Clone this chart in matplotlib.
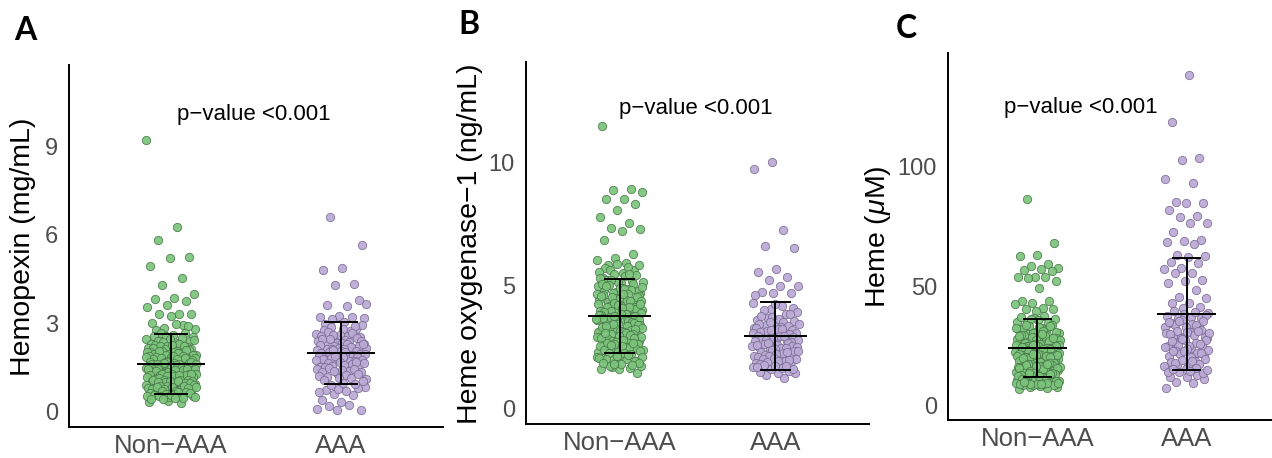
import numpy as np
import matplotlib
matplotlib.use("Agg")
import matplotlib.pyplot as plt

plt.rcParams['font.family'] = ['Liberation Sans', 'DejaVu Sans']
plt.rcParams['mathtext.fontset'] = 'custom'
plt.rcParams['mathtext.it'] = 'Liberation Sans:italic'
plt.rcParams['mathtext.rm'] = 'Liberation Sans'

categories = ["Non\u2212AAA", "AAA"]
panel_letters = ["A", "B", "C"]
y_labels = ["Hemopexin (mg/mL)", "Heme oxygenase\u22121 (ng/mL)", r"Heme ($\mu$M)"]
y_ticks = [[0, 3, 6, 9], [0, 5, 10], [0, 50, 100]]
p_text = "p\u2212value <0.001"

# ---- Panel A: Hemopexin (mg/mL)
hpx_non = [9.22, 6.26, 5.82, 5.23, 5.20, 4.94, 4.52, 4.30, 4.00, 3.85, 3.83, 3.76, 3.60, 3.56,
           3.32, 3.31, 3.30, 3.25, 3.00, 2.94, 2.85, 2.80, 2.98, 2.76, 2.90, 0.36, 0.34, 0.28,
           2.68, 2.52, 2.61, 2.57, 2.66, 2.55,
           2.47, 2.33, 2.41, 2.38, 2.45, 2.31, 2.49, 2.36, 2.43,
           2.12, 2.27, 2.19, 2.24, 2.15, 2.29, 2.21, 2.11, 2.26, 2.17, 2.23, 2.14,
           1.92, 2.05, 1.97, 2.08, 1.94, 2.01, 1.99, 2.06, 1.91, 2.03, 1.96, 2.09, 1.93, 2.02, 1.98, 2.07,
           1.71, 1.84, 1.77, 1.89, 1.73, 1.81, 1.75, 1.86, 1.79, 1.72, 1.88, 1.74, 1.83, 1.76, 1.87,
           1.78, 1.82, 1.70, 1.85, 1.80,
           1.51, 1.64, 1.57, 1.69, 1.53, 1.61, 1.55, 1.66, 1.59, 1.52, 1.68, 1.54, 1.63, 1.56, 1.67,
           1.58, 1.62, 1.50, 1.65, 1.60, 1.57, 1.63,
           1.31, 1.44, 1.37, 1.49, 1.33, 1.41, 1.35, 1.46, 1.39, 1.32, 1.48, 1.34, 1.43, 1.36, 1.47,
           1.38, 1.42, 1.30, 1.45, 1.40, 1.37, 1.43, 1.33, 1.46,
           1.11, 1.24, 1.17, 1.29, 1.13, 1.21, 1.15, 1.26, 1.19, 1.12, 1.28, 1.14, 1.23, 1.16, 1.27,
           1.18, 1.22, 1.10, 1.25, 1.20, 1.17, 1.23, 1.13, 1.26,
           0.91, 1.04, 0.97, 1.09, 0.93, 1.01, 0.95, 1.06, 0.99, 0.92, 1.08, 0.94, 1.03, 0.96, 1.07,
           0.98, 1.02, 0.90, 1.05, 1.00, 0.97, 1.03,
           0.71, 0.84, 0.77, 0.89, 0.73, 0.81, 0.75, 0.86, 0.79, 0.72, 0.88, 0.74, 0.83, 0.76, 0.87,
           0.78, 0.82, 0.70, 0.85, 0.80,
           0.51, 0.64, 0.57, 0.69, 0.53, 0.61, 0.55, 0.66, 0.59, 0.52, 0.68, 0.54, 0.63, 0.56,
           0.42, 0.47, 0.44, 0.49, 0.45]
hpx_aaa = [6.60, 5.65, 4.86, 4.80, 4.33, 4.31, 3.64, 3.57, 3.60, 3.78, 3.23, 3.20, 3.20, 3.13,
           3.17, 3.05, 2.96, 2.79,
           0.07, 0.10, 0.24, 0.20, 0.07, 0.34, 0.41, 0.58, 0.61, 0.85, 0.71, 0.75, 0.80, 0.78, 0.66,
           2.72, 2.88, 2.95, 2.81, 2.76, 2.92,
           2.51, 2.64, 2.57, 2.69, 2.53, 2.61, 2.55, 2.66, 2.59,
           2.31, 2.44, 2.37, 2.49, 2.33, 2.41, 2.35, 2.46, 2.39, 2.32, 2.47,
           2.11, 2.24, 2.17, 2.29, 2.13, 2.21, 2.15, 2.26, 2.19, 2.12, 2.28, 2.14,
           1.91, 2.04, 1.97, 2.09, 1.93, 2.01, 1.95, 2.06, 1.99, 1.92, 2.08, 1.94, 2.03,
           1.71, 1.84, 1.77, 1.89, 1.73, 1.81, 1.75, 1.86, 1.79, 1.72, 1.88, 1.74,
           1.51, 1.64, 1.57, 1.69, 1.53, 1.61, 1.55, 1.66, 1.59, 1.52, 1.68,
           1.31, 1.44, 1.37, 1.49, 1.33, 1.41, 1.35, 1.46, 1.39,
           1.11, 1.24, 1.17, 1.29, 1.13, 1.21, 1.15,
           0.91, 1.04, 0.97, 1.09, 0.95]
hpx_mean = [1.61, 1.98]
hpx_sd = [1.02, 1.045]

# ---- Panel B: Heme oxygenase-1 (ng/mL)
ho1_non = [11.5, 8.95, 8.90, 8.82, 8.55, 8.52, 8.33, 8.09, 7.82, 7.57, 7.34, 7.33, 7.24, 6.87,
           6.30, 6.15, 6.05, 5.95, 5.85,
           1.48, 1.61, 1.63, 1.68, 1.72, 1.75,
           5.52, 5.71, 5.63, 5.88, 5.58, 5.79, 5.66, 5.84,
           5.12, 5.34, 5.21, 5.47, 5.15, 5.39, 5.26, 5.44, 5.18, 5.31, 5.49, 5.23,
           4.71, 4.93, 4.82, 5.06, 4.75, 4.98, 4.86, 5.03, 4.78, 4.91, 5.09, 4.84, 4.73, 4.96, 4.88, 5.01,
           4.31, 4.53, 4.42, 4.66, 4.35, 4.58, 4.46, 4.63, 4.38, 4.51, 4.69, 4.44, 4.33, 4.56, 4.48,
           4.61, 4.37, 4.54, 4.40, 4.67,
           3.91, 4.13, 4.02, 4.26, 3.95, 4.18, 4.06, 4.23, 3.98, 4.11, 4.29, 4.04, 3.93, 4.16, 4.08,
           4.21, 3.97, 4.14, 4.00, 4.27, 4.09, 3.94,
           3.51, 3.73, 3.62, 3.86, 3.55, 3.78, 3.66, 3.83, 3.58, 3.71, 3.89, 3.64, 3.53, 3.76, 3.68,
           3.81, 3.57, 3.74, 3.60, 3.87, 3.69, 3.54, 3.79, 3.65,
           3.11, 3.33, 3.22, 3.46, 3.15, 3.38, 3.26, 3.43, 3.18, 3.31, 3.49, 3.24, 3.13, 3.36, 3.28,
           3.41, 3.17, 3.34, 3.20, 3.47, 3.29, 3.14, 3.39, 3.25,
           2.71, 2.93, 2.82, 3.06, 2.75, 2.98, 2.86, 3.03, 2.78, 2.91, 3.09, 2.84, 2.73, 2.96, 2.88,
           3.01, 2.77, 2.94, 2.80, 3.07, 2.89, 2.74,
           2.31, 2.53, 2.42, 2.66, 2.35, 2.58, 2.46, 2.63, 2.38, 2.51, 2.69, 2.44, 2.33, 2.56, 2.48,
           2.61, 2.37, 2.54, 2.40, 2.67,
           1.91, 2.13, 2.02, 2.26, 1.95, 2.18, 2.06, 2.23, 1.98, 2.11, 2.29, 2.04, 1.93, 2.16, 2.08, 2.21,
           1.76, 1.88, 1.81, 1.85, 1.78, 1.83]
ho1_aaa = [10.03, 9.76, 7.26, 6.63, 6.53, 5.68, 5.58, 5.38, 5.24, 5.00, 4.98, 4.74, 4.72, 4.70, 4.64,
           1.25, 1.38, 1.45, 1.48, 1.52, 1.55,
           4.05, 4.31, 4.18, 4.02, 4.12, 4.25,
           3.62, 3.88, 3.71, 3.95, 3.66, 3.79, 3.84, 3.73,
           3.31, 3.52, 3.42, 3.58, 3.35, 3.47, 3.39, 3.55, 3.44, 3.33,
           3.01, 3.22, 3.12, 3.28, 3.05, 3.17, 3.09, 3.25, 3.14, 3.03, 3.20, 3.07, 3.27,
           2.71, 2.92, 2.82, 2.98, 2.75, 2.87, 2.79, 2.95, 2.84, 2.73, 2.90, 2.77, 2.97, 2.81,
           2.41, 2.62, 2.52, 2.68, 2.45, 2.57, 2.49, 2.65, 2.54, 2.43, 2.60, 2.47, 2.67, 2.51,
           2.11, 2.32, 2.22, 2.38, 2.15, 2.27, 2.19, 2.35, 2.24, 2.13, 2.30, 2.17, 2.37,
           1.81, 2.02, 1.92, 2.08, 1.85, 1.97, 1.89, 2.05, 1.94, 1.83, 2.00,
           1.61, 1.72, 1.66, 1.78, 1.63, 1.75, 1.69, 1.74]
ho1_mean = [3.78, 2.98]
ho1_sd = [1.51, 1.385]

# ---- Panel C: Heme (uM)
heme_non = [86.3, 68.1, 63.0, 62.5, 59.1, 58.4, 57.5, 57.1, 56.7, 56.3, 53.9, 53.9, 53.6, 53.2,
            52.1, 49.3, 43.9, 43.8, 43.0, 42.5, 40.7, 40.4, 40.3, 39.5,
            6.8, 7.2, 7.6, 7.9, 8.1, 8.4,
            34.2, 36.8, 35.1, 37.6, 34.9, 36.1, 35.7, 37.2, 34.5, 36.4,
            30.3, 32.6, 31.2, 33.8, 30.7, 32.1, 31.5, 33.4, 30.9, 32.9, 31.8, 33.1, 30.5, 32.3, 31.1, 33.6,
            26.2, 28.5, 27.1, 29.7, 26.6, 28.0, 27.4, 29.3, 26.9, 28.8, 27.7, 29.0, 26.4, 28.2, 27.0,
            29.5, 26.8, 28.6, 27.5, 29.9, 26.3, 28.3, 27.2, 29.1,
            22.1, 24.4, 23.0, 25.6, 22.5, 23.9, 23.3, 25.2, 22.8, 24.7, 23.6, 24.9, 22.3, 24.1, 22.9,
            25.4, 22.7, 24.5, 23.4, 25.8, 22.2, 24.2, 23.1, 25.0, 22.6, 24.6, 23.7, 25.3, 22.4, 23.8,
            18.1, 20.4, 19.0, 21.6, 18.5, 19.9, 19.3, 21.2, 18.8, 20.7, 19.6, 20.9, 18.3, 20.1, 18.9,
            21.4, 18.7, 20.5, 19.4, 21.8, 18.2, 20.2, 19.1, 21.0, 18.6, 20.6, 19.7, 21.3, 18.4, 19.8,
            20.3, 21.5,
            14.1, 16.4, 15.0, 17.6, 14.5, 15.9, 15.3, 17.2, 14.8, 16.7, 15.6, 16.9, 14.3, 16.1, 14.9,
            17.4, 14.7, 16.5, 15.4, 17.8, 14.2, 16.2, 15.1, 17.0, 14.6, 16.6, 15.7, 17.3, 14.4, 15.8,
            10.1, 12.4, 11.0, 13.6, 10.5, 11.9, 11.3, 13.2, 10.8, 12.7, 11.6, 12.9, 10.3, 12.1, 10.9,
            13.4, 10.7, 12.5, 11.4, 13.8, 10.2, 12.2, 11.1, 13.0,
            8.6, 9.4, 8.9, 9.8, 8.7, 9.2, 9.0, 9.6, 8.8, 9.5, 9.1, 9.9]
heme_aaa = [138.3, 118.5, 103.7, 102.7, 94.8, 93.0, 85.3, 84.9, 84.6, 81.8, 79.3, 79.0, 76.5, 76.2,
            72.7, 69.2, 69.0, 68.5, 67.6, 63.0, 62.6, 62.3, 60.2, 59.7, 57.4, 57.0, 55.3, 55.3,
            52.5, 52.2, 51.4, 48.3, 45.5, 44.9, 43.0, 42.8, 41.3, 40.7,
            7.2, 9.5, 10.0, 11.0, 12.1, 12.1, 12.8,
            36.3, 38.7, 37.1, 39.5, 36.8, 38.2, 37.6, 39.1, 36.5, 38.0,
            32.2, 34.6, 33.1, 35.7, 32.7, 34.1, 33.5, 35.2, 32.9, 34.8, 33.8, 35.5,
            28.3, 30.6, 29.1, 31.7, 28.8, 30.2, 29.5, 31.3, 28.5, 30.9, 29.8, 31.0, 28.1, 30.4,
            24.2, 26.5, 25.1, 27.6, 24.7, 26.0, 25.4, 27.2, 24.9, 26.8, 25.7, 27.9, 24.4,
            20.3, 22.6, 21.1, 23.7, 20.8, 22.1, 21.5, 23.3, 20.5, 22.9, 21.8, 23.0,
            16.2, 18.5, 17.1, 19.6, 16.7, 18.0, 17.5, 19.2, 16.4, 18.8, 17.8,
            13.6, 15.4, 14.2, 15.8, 13.9, 14.8, 14.5, 15.1]
heme_mean = [23.9, 38.3]
heme_sd = [12.15, 23.35]

panels = [
    (hpx_non, hpx_aaa, hpx_mean, hpx_sd),
    (ho1_non, ho1_aaa, ho1_mean, ho1_sd),
    (heme_non, heme_aaa, heme_mean, heme_sd),
]

# ---- layout / styling
W, H = 1272, 458
boxes = [(69, 443, 427, 65), (526, 869, 424, 62), (948, 1276, 420, 53)]  # left,right,bottom,top px
ylims = [(-0.52, 11.75), (-0.61, 14.1), (-6.07, 147.5)]
pval_pos = [(1.49, 10.06), (1.49, 12.2), (1.29, 124.8)]
letter_pos = [(25, 30), (469, 25), (906, 28)]
ylabel_pos = [(23, 247), (470, 244), (878, 237)]
fills = ["#7CC47C", "#BBAAD6"]
edges = ["#4A7A4A", "#7A6C94"]

fig = plt.figure(figsize=(W / 100, H / 100), dpi=100)

for k, (non, aaa, mean, sd) in enumerate(panels):
    l, r, b, t = boxes[k]
    ax = fig.add_axes([l / W, (H - b) / H, (r - l) / W, (b - t) / H])
    for j, vals in enumerate([non, aaa]):
        vals = np.asarray(vals)
        idx = np.arange(len(vals))
        off = ((idx * 0.6180339887 + 0.29 * j + 0.13 * k) % 1.0 - 0.5) * 0.30
        ax.scatter(j + 1 + off, vals, s=36, c=fills[j], edgecolors=edges[j],
                   linewidths=0.6, alpha=0.92, zorder=2)
        m, s = mean[j], sd[j]
        ax.hlines(m, j + 1 - 0.2, j + 1 + 0.2, color="black", lw=1.4, zorder=3)
        ax.vlines(j + 1, m - s, m + s, color="black", lw=1.4, zorder=3)
        ax.hlines([m - s, m + s], j + 1 - 0.1, j + 1 + 0.1, color="black", lw=1.4, zorder=3)
    ax.set_xlim(0.4, 2.6)
    ax.set_ylim(*ylims[k])
    ax.set_xticks([1, 2])
    ax.set_xticklabels(categories)
    ax.set_yticks(y_ticks[k])
    ax.tick_params(axis="both", length=0, colors="#4D4D4D")
    ax.tick_params(axis="x", labelsize=18.5, pad=5)
    ax.tick_params(axis="y", labelsize=17, pad=8)
    for sp in ["top", "right"]:
        ax.spines[sp].set_visible(False)
    for sp in ["left", "bottom"]:
        ax.spines[sp].set_linewidth(1.4)
        ax.spines[sp].set_color("black")
    ax.patch.set_alpha(0)
    ax.text(pval_pos[k][0], pval_pos[k][1], p_text, ha="center", va="center",
            fontsize=16, color="black")
    fig.text(ylabel_pos[k][0] / W, 1 - ylabel_pos[k][1] / H, y_labels[k], rotation=90,
             ha="center", va="center", fontsize=20.5, color="black")
    fig.text(letter_pos[k][0] / W, 1 - letter_pos[k][1] / H, panel_letters[k],
             ha="center", va="center", fontsize=23, fontweight="bold",
             family=["Lato", "DejaVu Sans"], color="black")

fig.savefig("out.png", dpi=100)
